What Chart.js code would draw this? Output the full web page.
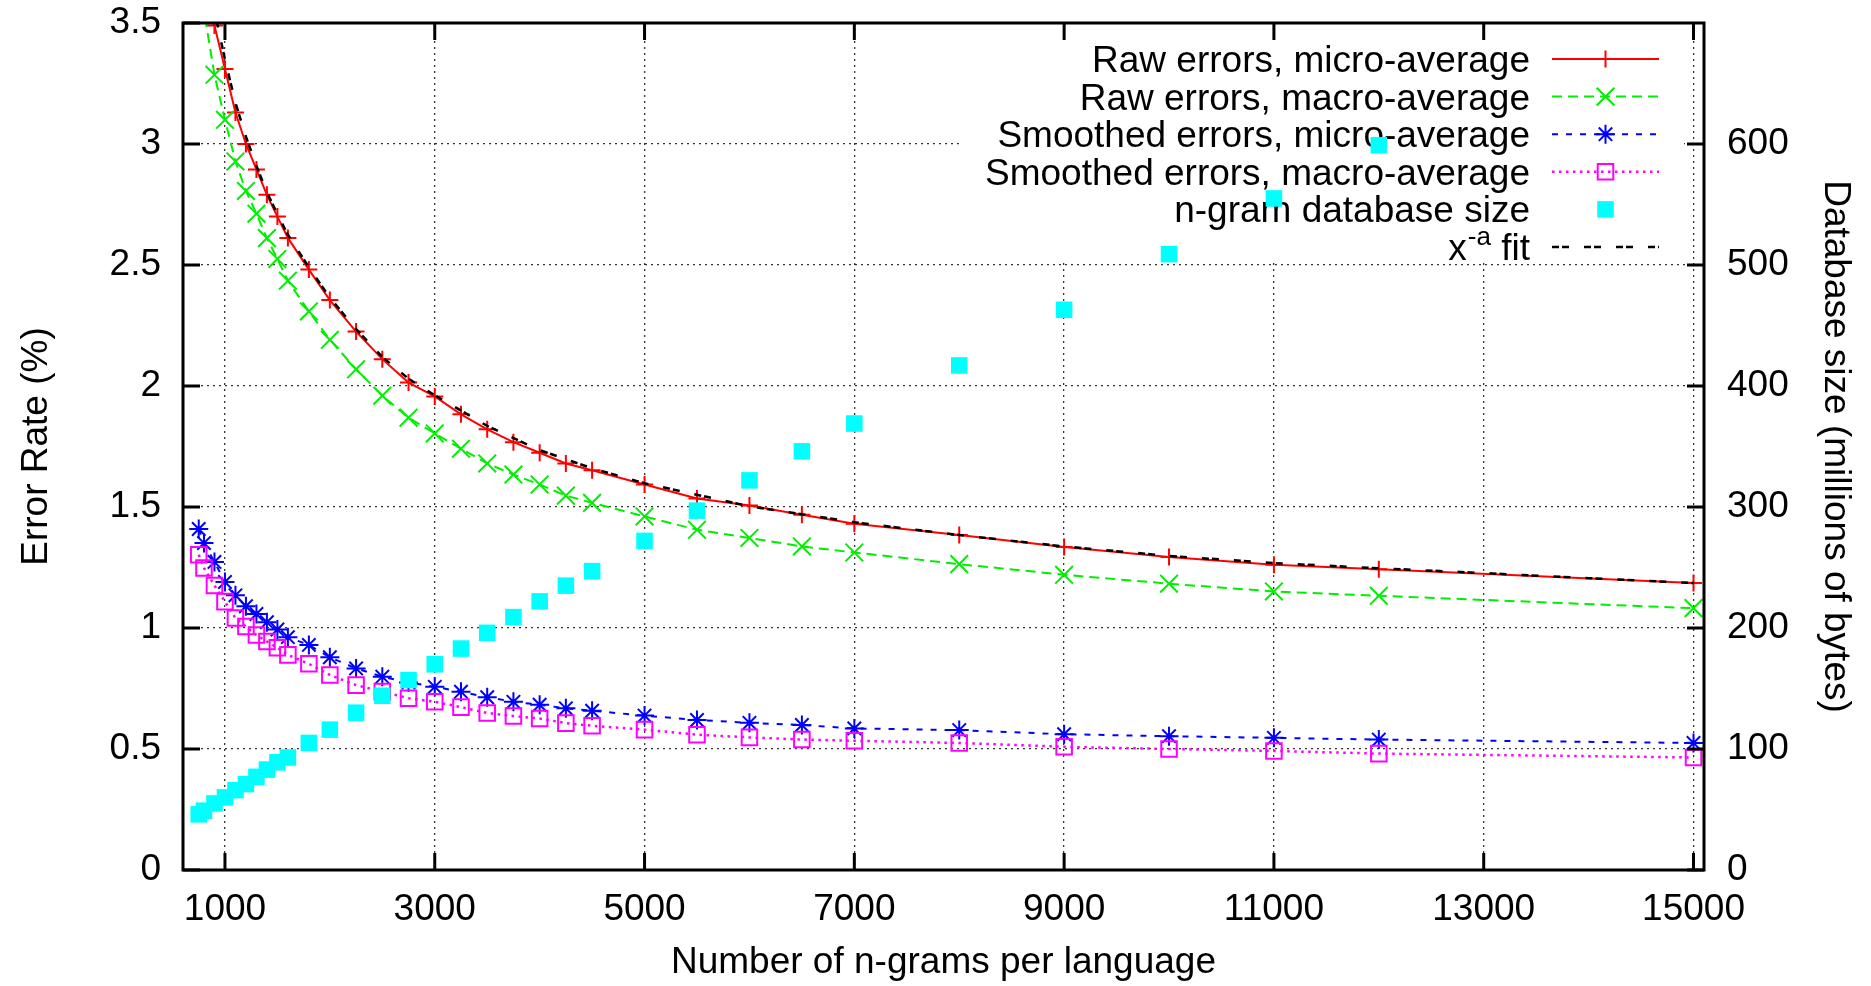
<!DOCTYPE html>
<html>
<head>
<meta charset="utf-8">
<title>Error rate vs number of n-grams</title>
<script src="https://cdn.jsdelivr.net/npm/chart.js@4.4.1/dist/chart.umd.min.js"></script>
<style>
html,body{margin:0;padding:0;background:#ffffff;overflow:hidden;}
canvas{display:block;}
</style>
</head>
<body>
<canvas id="chart" width="1871" height="986"></canvas>
<script>
// ---------------- data ----------------
const nGrams = [750, 800, 900, 1000, 1100, 1200, 1300, 1400, 1500, 1600, 1800, 2000, 2250, 2500, 2750, 3000, 3250, 3500, 3750, 4000, 4250, 4500, 5000, 5500, 6000, 6500, 7000, 8000, 9000, 10000, 11000, 12000, 15000];
const rawMicro = [3.75, 3.63, 3.49, 3.31, 3.13, 3.00, 2.895, 2.79, 2.70, 2.612, 2.481, 2.355, 2.225, 2.111, 2.014, 1.957, 1.883, 1.821, 1.768, 1.724, 1.680, 1.652, 1.593, 1.535, 1.506, 1.468, 1.431, 1.384, 1.335, 1.293, 1.261, 1.243, 1.186];
const rawMacro = [3.72, 3.55, 3.286, 3.10, 2.928, 2.806, 2.712, 2.611, 2.525, 2.435, 2.308, 2.191, 2.069, 1.96, 1.869, 1.804, 1.741, 1.680, 1.634, 1.593, 1.547, 1.517, 1.461, 1.406, 1.372, 1.337, 1.312, 1.264, 1.220, 1.183, 1.151, 1.133, 1.082];
const smoothMicro = [1.409, 1.351, 1.273, 1.190, 1.135, 1.090, 1.058, 1.024, 0.994, 0.962, 0.930, 0.879, 0.833, 0.799, 0.775, 0.757, 0.737, 0.714, 0.695, 0.683, 0.668, 0.658, 0.638, 0.620, 0.608, 0.599, 0.585, 0.578, 0.561, 0.553, 0.546, 0.539, 0.525];
const smoothMacro = [1.303, 1.248, 1.176, 1.109, 1.041, 1.006, 0.971, 0.944, 0.918, 0.889, 0.852, 0.806, 0.764, 0.737, 0.710, 0.695, 0.673, 0.649, 0.636, 0.626, 0.607, 0.596, 0.580, 0.559, 0.548, 0.539, 0.534, 0.525, 0.509, 0.500, 0.492, 0.481, 0.465];
const dbSizeMB = [46, 49, 55, 60, 66, 71, 77, 83, 89, 93, 105, 116, 130, 144, 157, 170, 183, 196, 209, 222, 235, 247, 272, 297, 322, 346, 369, 417, 463, 509, 555, 599, null];
const fitNGrams = [900, 1000, 1100, 1200, 1300, 1400, 1500, 1600, 1800, 2000, 2250, 2500, 2750, 3000, 3500, 4000, 4500, 5000, 6000, 7000, 8000, 9000, 10000, 11000, 12000, 13000, 14000, 15000];
const fitValues = [3.55, 3.35, 3.17, 3.03, 2.91, 2.80, 2.71, 2.625, 2.49, 2.365, 2.235, 2.12, 2.03, 1.962, 1.835, 1.735, 1.66, 1.598, 1.503, 1.437, 1.384, 1.337, 1.298, 1.268, 1.247, 1.227, 1.206, 1.186];
const xTickValues = [1000, 3000, 5000, 7000, 9000, 11000, 13000, 15000];
const yTickValues = [0, 0.5, 1, 1.5, 2, 2.5, 3, 3.5];
const y2TickValues = [0, 100, 200, 300, 400, 500, 600];
const seriesLabels = ['Raw errors, micro-average', 'Raw errors, macro-average', 'Smoothed errors, micro-average', 'Smoothed errors, macro-average', 'n-gram database size', 'x^-a fit'];
const xTitle = 'Number of n-grams per language';
const yTitle = 'Error Rate (%)';
const y2Title = 'Database size (millions of bytes)';

// ---------------- helpers ----------------
const pts = (xs, ys) => xs.map((x, i) => ({x: x, y: ys[i]})).filter(p => p.y !== null && p.y !== undefined);

const FONT = "'Liberation Sans', Arial, Helvetica, sans-serif";
Chart.defaults.font.family = FONT;
Chart.defaults.font.size = 37;
Chart.defaults.color = '#000';

const datasets = [
  {label: seriesLabels[0], data: pts(nGrams, rawMicro), borderColor: '#ff0000', backgroundColor: '#ff0000',
   borderWidth: 2, borderDash: [], pointStyle: 'cross', pointRadius: 8.5, pointBorderWidth: 2,
   pointBorderColor: '#ff0000', pointBackgroundColor: 'rgba(0,0,0,0)', showLine: true, order: 6, yAxisID: 'y'},
  {label: seriesLabels[1], data: pts(nGrams, rawMacro), borderColor: '#00ee00', backgroundColor: '#00ee00',
   borderWidth: 2, borderDash: [10, 6], pointStyle: 'crossRot', pointRadius: 12.5, pointBorderWidth: 2,
   pointBorderColor: '#00ee00', pointBackgroundColor: 'rgba(0,0,0,0)', showLine: true, order: 5, yAxisID: 'y'},
  {label: seriesLabels[2], data: pts(nGrams, smoothMicro), borderColor: '#0000ff', backgroundColor: '#0000ff',
   borderWidth: 2, borderDash: [6, 8], pointStyle: 'star', pointRadius: 9.5, pointBorderWidth: 2,
   pointBorderColor: '#0000ff', pointBackgroundColor: 'rgba(0,0,0,0)', showLine: true, order: 4, yAxisID: 'y'},
  {label: seriesLabels[3], data: pts(nGrams, smoothMacro), borderColor: '#ff00ff', backgroundColor: '#ff00ff',
   borderWidth: 2.5, borderDash: [2.5, 4.5], pointStyle: 'rect', pointRadius: 11, pointBorderWidth: 2,
   pointBorderColor: '#ff00ff', pointBackgroundColor: 'rgba(0,0,0,0)', showLine: true, order: 3, yAxisID: 'y'},
  {label: seriesLabels[4], data: pts(nGrams, dbSizeMB), borderColor: '#00ffff', backgroundColor: '#00ffff',
   borderWidth: 0, borderDash: [], pointStyle: 'rect', pointRadius: 11.7, pointBorderWidth: 0,
   pointBorderColor: '#00ffff', pointBackgroundColor: '#00ffff', showLine: false, order: 2, yAxisID: 'y2'},
  {label: seriesLabels[5], data: pts(fitNGrams, fitValues), borderColor: '#000000', backgroundColor: '#000000',
   borderWidth: 2.5, borderDash: [7, 3, 7, 15], pointStyle: 'circle', pointRadius: 0, pointBorderWidth: 0,
   pointBorderColor: '#000', pointBackgroundColor: '#000', showLine: true, order: 1, yAxisID: 'y'}
];
datasets.forEach(d => { d.fill = false; d.tension = 0; d.pointHoverRadius = d.pointRadius; });

// ---------------- gnuplot-like frame, inward ticks and opaque key ----------------
const gnuplotFrame = {
  id: 'gnuplotFrame',
  beforeDatasetsDraw(chart) {
    const {ctx, chartArea: a} = chart;
    ctx.save();
    // opaque key background (hides the grid behind the key)
    const boxL = a.right - 744, boxR = a.right - 20, boxT = a.top + 2, boxB = a.top + 240;
    ctx.fillStyle = '#ffffff';
    ctx.fillRect(boxL, boxT, boxR - boxL, boxB - boxT);

    const textRight = a.right - 174;
    const sx0 = a.right - 152, sx1 = a.right - 45, sxm = (sx0 + sx1) / 2;
    const row0 = a.top + 36, rowStep = 37.6;
    chart.data.datasets.forEach((ds, i) => {
      const ry = row0 + i * rowStep;
      const base = ry + 13;
      ctx.fillStyle = '#000';
      ctx.textBaseline = 'alphabetic';
      ctx.textAlign = 'right';
      if (ds.label.indexOf('^') >= 0) {
        const m = ds.label.match(/^(.*)\^(\S+)(.*)$/);
        ctx.font = '37px ' + FONT;
        ctx.fillText(m[3], textRight, base);
        const w1 = ctx.measureText(m[3]).width;
        ctx.font = '26px ' + FONT;
        ctx.fillText(m[2], textRight - w1, base - 15);
        const w2 = ctx.measureText(m[2]).width;
        ctx.font = '37px ' + FONT;
        ctx.fillText(m[1], textRight - w1 - w2 - 1, base);
      } else {
        ctx.font = '37px ' + FONT;
        ctx.fillText(ds.label, textRight, base);
      }
      if (ds.showLine) {
        ctx.save();
        ctx.strokeStyle = ds.borderColor;
        ctx.lineWidth = ds.borderWidth;
        ctx.setLineDash(ds.borderDash || []);
        ctx.beginPath();
        ctx.moveTo(sx0, ry);
        ctx.lineTo(sx1, ry);
        ctx.stroke();
        ctx.restore();
      }
      if (ds.pointRadius > 0) {
        ctx.save();
        ctx.setLineDash([]);
        ctx.strokeStyle = ds.pointBorderColor;
        ctx.fillStyle = ds.pointBackgroundColor;
        ctx.lineWidth = ds.pointBorderWidth;
        Chart.helpers.drawPoint(ctx, {pointStyle: ds.pointStyle, radius: ds.pointRadius, rotation: 0, borderWidth: ds.pointBorderWidth}, sxm, ry);
        ctx.restore();
      }
    });
    ctx.restore();
  },
  afterDraw(chart) {
    const {ctx, chartArea: a, scales} = chart;
    ctx.save();
    ctx.strokeStyle = '#000';
    ctx.setLineDash([]);
    ctx.lineWidth = 3;
    const tl = 17;
    ctx.beginPath();
    scales.x.ticks.forEach(t => {
      const px = scales.x.getPixelForValue(t.value);
      ctx.moveTo(px, a.bottom); ctx.lineTo(px, a.bottom - tl);
      ctx.moveTo(px, a.top); ctx.lineTo(px, a.top + tl);
    });
    scales.y.ticks.forEach(t => {
      const py = scales.y.getPixelForValue(t.value);
      ctx.moveTo(a.left, py); ctx.lineTo(a.left + tl, py);
    });
    scales.y2.ticks.forEach(t => {
      const py = scales.y2.getPixelForValue(t.value);
      ctx.moveTo(a.right, py); ctx.lineTo(a.right - tl, py);
    });
    ctx.stroke();
    ctx.lineWidth = 3;
    ctx.strokeRect(a.left, a.top, a.right - a.left, a.bottom - a.top);
    ctx.restore();
  }
};

const gridStyle = {color: 'rgba(0,0,0,0.8)', lineWidth: 1.3, drawTicks: false};
const fitVertical = w => s => { s.width = w; s.paddingTop = 0; s.paddingBottom = 0; };

new Chart(document.getElementById('chart'), {
  type: 'line',
  data: {datasets: datasets},
  options: {
    responsive: false,
    animation: false,
    devicePixelRatio: 1,
    layout: {padding: {top: 23, left: 0, right: 0, bottom: 0}},
    plugins: {legend: {display: false}, tooltip: {enabled: false}},
    events: [],
    scales: {
      x: {
        type: 'linear', position: 'bottom', min: 600, max: 15100,
        afterBuildTicks: s => { s.ticks = xTickValues.map(v => ({value: v})); },
        afterFit: s => { s.height = 116; },
        ticks: {autoSkip: false, maxRotation: 0, minRotation: 0, padding: 18, callback: v => String(v)},
        grid: gridStyle,
        border: {display: false, dash: [2, 4]},
        title: {display: true, text: xTitle, padding: {top: 0, bottom: 1}}
      },
      y: {
        type: 'linear', position: 'left', min: 0, max: 3.5,
        afterBuildTicks: s => { s.ticks = yTickValues.map(v => ({value: v})); },
        afterFit: fitVertical(183),
        ticks: {padding: 22, callback: v => String(v)},
        grid: gridStyle,
        border: {display: false, dash: [2, 4]},
        title: {display: true, text: yTitle, padding: {top: 15, bottom: 0}}
      },
      y2: {
        type: 'linear', position: 'right', min: 0, max: 700,
        afterBuildTicks: s => { s.ticks = y2TickValues.map(v => ({value: v})); },
        afterFit: fitVertical(167),
        ticks: {padding: 23, callback: v => String(v)},
        grid: {display: false, drawTicks: false},
        border: {display: false},
        title: {display: true, text: y2Title, padding: {top: 14, bottom: 0}}
      }
    }
  },
  plugins: [gnuplotFrame]
});
</script>
</body>
</html>
